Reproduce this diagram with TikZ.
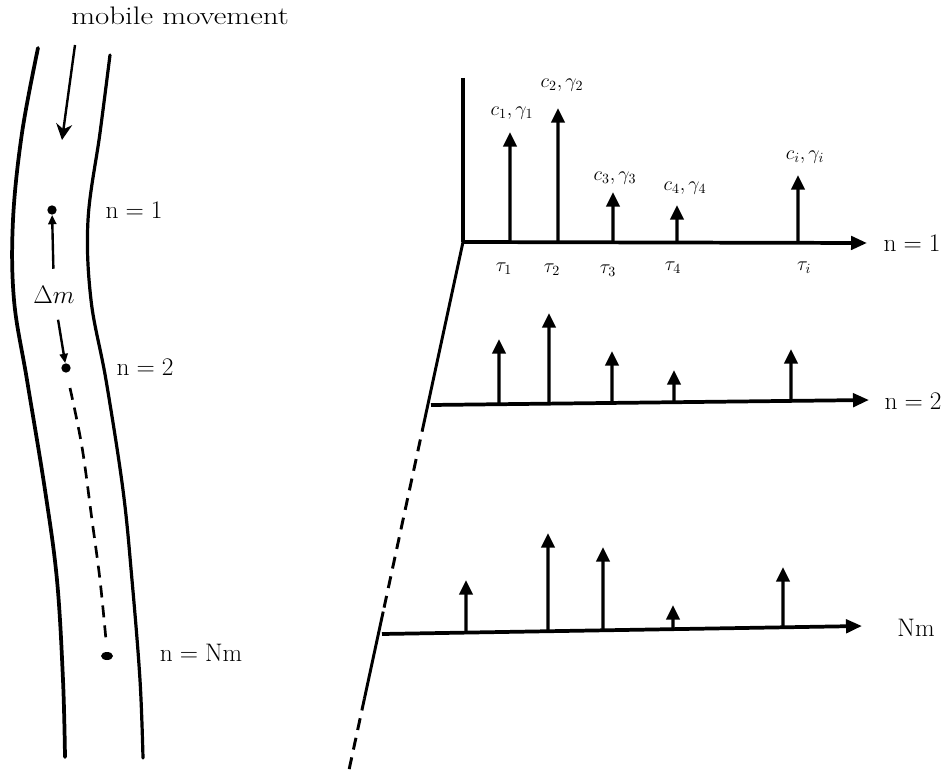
\RequirePackage{fix-cm}
\documentclass[tikz,border=0pt]{standalone}
\usepackage{amsmath,amssymb}
\usepackage{fontspec}
\newfontfamily\widefont[FakeStretch=1.22]{Latin Modern Roman}
\usepackage{tikz}
\usetikzlibrary{arrows.meta,positioning,calc,shapes.geometric}
\tikzset{
  road/.style={line width=2.4pt, line cap=round},
  axisline/.style={line width=2.8pt, -{Triangle[length=12pt, width=10pt]}},
  stem/.style={line width=2.4pt, -{Triangle[length=11pt, width=10pt]}},
  slant/.style={line width=2.2pt},
  dashline/.style={line width=2.2pt, dash pattern=on 9pt off 6pt},
  move/.style={line width=1.8pt, -{Triangle[length=7pt, width=6pt]}},
  spot/.style={circle, fill, inner sep=0pt, minimum size=7pt},
  biglabel/.style={font=\fontsize{19}{23}\selectfont, inner sep=1pt},
  smalllabel/.style={font=\fontsize{15}{18}\selectfont, inner sep=1pt},
}

\begin{document}
\begin{tikzpicture}[x=0.75pt, y=-0.75pt]
\useasboundingbox (0,0) rectangle (942,773);

% the road with the mobile
\node[biglabel, font=\widefont\fontsize{19}{23}\selectfont] (mob) at (180,16) {mobile movement};
\draw[road, line width=2.8pt] plot[smooth, tension=0.6] coordinates
  {(38,48) (22,133) (13,220) (14,300) (27,380) (45,490) (57,580) (63,680) (65,757)};
\draw[road] plot[smooth, tension=0.6] coordinates
  {(110,55) (100,133) (88,220) (91,300) (106,380) (123,490) (132,580) (140,680) (143,758)};
\coordinate (mvs) at (75,45);
\coordinate (mve) at (62,140);
\draw[line width=1.8pt, -{Stealth[length=12pt, width=12pt]}] (mvs) -- (mve);

\node[spot] (p1) at (52,210) {};
\node[spot] (p2) at (66,368) {};
\node[spot, ellipse, minimum width=9pt, minimum height=6pt] (p3) at (107,656) {};
\node[biglabel] (dm) at (54,295) {$\Delta m$};
\draw[move, shorten <=12pt] (dm) -- (p1);
\draw[move, shorten <=11pt] (dm) -- (p2);
\coordinate (ds) at (70,388);
\coordinate (de) at (106,640);
\draw[dashline, line width=2pt] plot[smooth, tension=0.6] coordinates
  {(ds) (82,447) (92,520) (100,580) (de)};

\node[biglabel] (n1) at (134,210) {$\mathrm{n}=1$};
\node[biglabel] (n2) at (145,367) {$\mathrm{n}=2$};
\node[biglabel] (nn) at (201,653) {$\mathrm{n}=\mathrm{Nm}$};

% impulse responses
\coordinate (o1) at (463,242);
\coordinate (e1) at (867,243);
\coordinate (o2) at (431,405);
\coordinate (e2) at (869,400);
\coordinate (o3) at (382,634);
\coordinate (e3) at (862,626);
\coordinate (top) at (463,78);
\coordinate (low) at (349,770);

\draw[line width=2.4pt] (top) -- (o1);
\draw[slant] (o1) -- ($(o1)!0.337!(low)$);
\draw[dashline] ($(o1)!0.337!(low)$) -- ($(o1)!0.70!(low)$);
\draw[slant] ($(o1)!0.70!(low)$) -- ($(o1)!0.865!(low)$);
\draw[dashline] ($(o1)!0.865!(low)$) -- (low);

\draw[axisline] (o1) -- (e1);
\draw[axisline] (o2) -- (e2);
\draw[axisline] (o3) -- (e3);

\foreach \x/\t in {510/132, 558/108, 613/192, 677/205, 798/175}
  \draw[stem] ($(o1)!{(\x-463)/404}!(e1)$) -- (\x,\t);
\foreach \x/\t in {499/339, 549/313, 612/351, 674/370, 791/349}
  \draw[stem] ($(o2)!{(\x-431)/438}!(e2)$) -- (\x,\t);
\foreach \x/\t in {466/580, 548/533, 603/547, 673/605, 783/567}
  \draw[stem] ($(o3)!{(\x-382)/480}!(e3)$) -- (\x,\t);

\node[smalllabel] (g1) at (512,113) {$c_1,\gamma_1$};
\node[smalllabel] (g2) at (562,85) {$c_2,\gamma_2$};
\node[smalllabel] (g3) at (615,178) {$c_3,\gamma_3$};
\node[smalllabel] (g4) at (685,188) {$c_4,\gamma_4$};
\node[smalllabel] (gi) at (805,157) {$c_i,\gamma_i$};

\node[smalllabel] (t1) at (504,269) {$\tau_1$};
\node[smalllabel] (t2) at (552,270) {$\tau_2$};
\node[smalllabel] (t3) at (608,271) {$\tau_3$};
\node[smalllabel] (t4) at (673,268) {$\tau_4$};
\node[smalllabel] (ti) at (804,268) {$\tau_i$};

\node[biglabel] (r1) at (912,243) {$\mathrm{n}=1$};
\node[biglabel] (r2) at (913,401) {$\mathrm{n}=2$};
\node[biglabel] (r3) at (916,628) {Nm};
\end{tikzpicture}
\end{document}
